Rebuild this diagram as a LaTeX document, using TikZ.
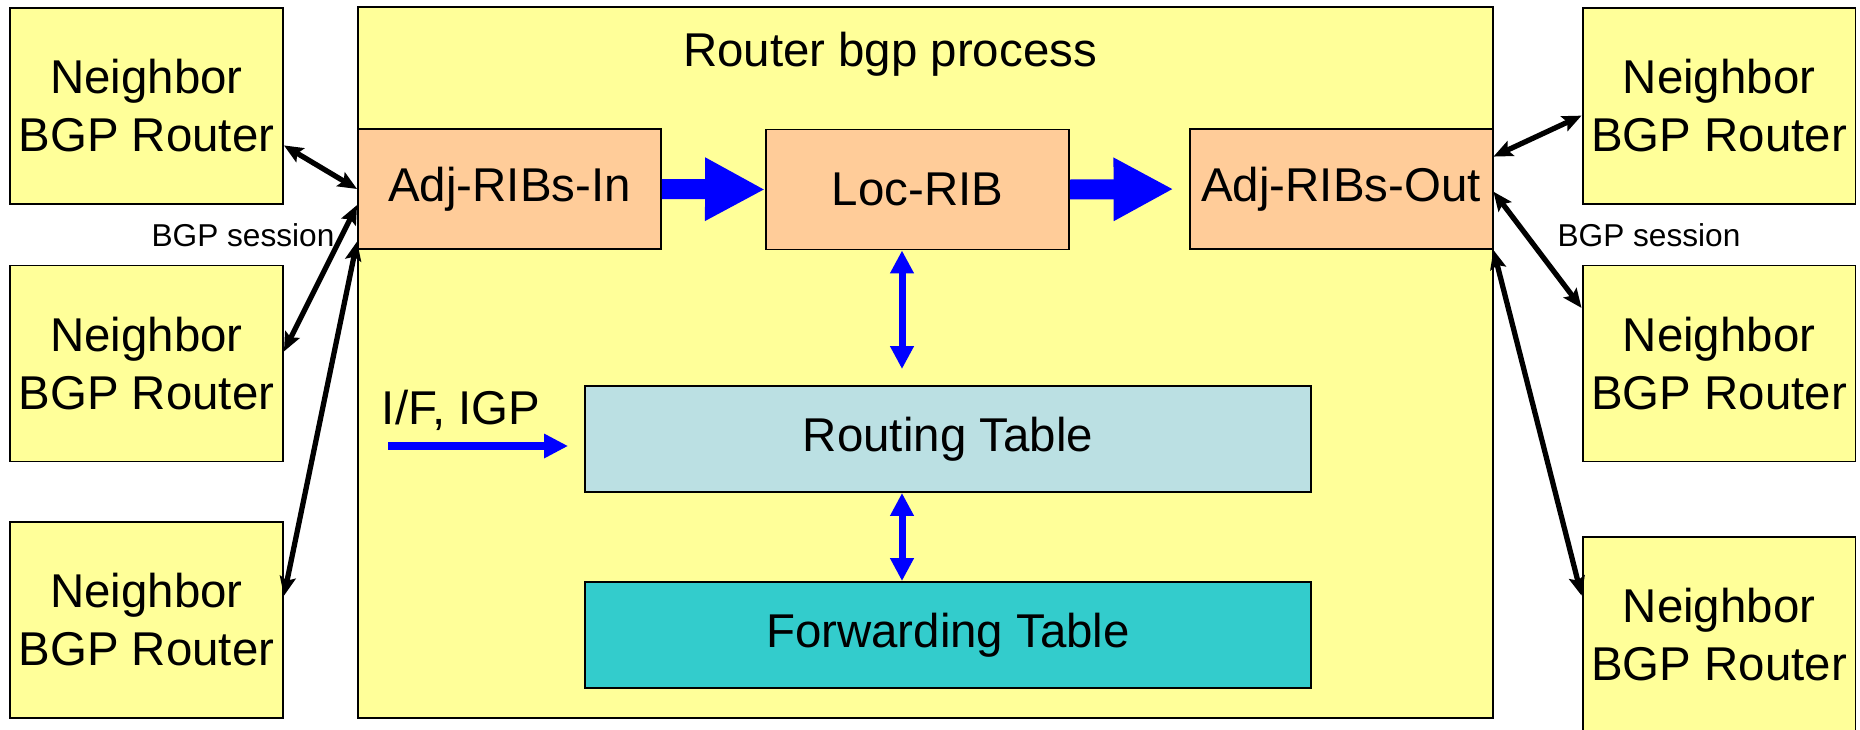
\documentclass[tikz,border=0pt]{standalone}
\usepackage{fontspec}
\setmainfont{Liberation Sans}
\usetikzlibrary{positioning,arrows.meta}
\definecolor{paleyellow}{HTML}{FFFF99}
\definecolor{peach}{HTML}{FFCC99}
\definecolor{paleblue}{HTML}{BBE0E3}
\definecolor{tealfill}{HTML}{33CCCC}

\begin{document}
\begin{tikzpicture}[x=0.02cm,y=-0.02cm,
    box/.style={draw,line width=1.1pt,inner sep=0pt,align=center,font=\fontsize{27}{33}\selectfont},
    nbr/.style={box,fill=paleyellow,minimum width=5.46cm,minimum height=3.92cm},
    rib/.style={box,fill=peach,minimum width=6.06cm,minimum height=2.4cm},
    tbl/.style={box,minimum width=14.52cm,minimum height=2.12cm},
    session/.style={<->,>={Stealth[length=3.8mm,width=3.2mm,inset=0.7mm]},line width=3pt},
    flow/.style={-{Triangle[length=12mm,width=11.8mm]},line width=4mm,blue},
    link/.style={<->,>={Triangle[length=4.6mm,width=4.5mm]},line width=1.4mm,blue},
    feed/.style={-{Triangle[length=4.8mm,width=4.6mm]},line width=1.6mm,blue},
    small/.style={font=\fontsize{18}{21.6}\selectfont},
]
\useasboundingbox (0,0) rectangle (1860,730);
\node[box,fill=paleyellow,minimum width=22.7cm,minimum height=14.22cm] (router) at (925.5,362.5) {};
\node[font=\fontsize{27}{33}\selectfont] (title) at (890,54) {Router bgp process};

\node[nbr] (n1)  at (146.5,106)   {Neighbor\\BGP Router};
\node[nbr] (n2)  at (146.5,363.5) {Neighbor\\BGP Router};
\node[nbr] (n3)  at (146.5,620)   {Neighbor\\BGP Router};
\node[nbr] (rn1) at (1719,106)    {Neighbor\\BGP Router};
\node[nbr] (rn2) at (1719,363.5)  {Neighbor\\BGP Router};
\node[nbr] (rn3) at (1719,635)    {Neighbor\\BGP Router};

\node[rib] (adjin)  at (509.5,189)  {Adj-RIBs-In};
\node[rib] (locrib) at (917.5,189.5) {Loc-RIB};
\node[rib] (adjout) at (1341,189)   {Adj-RIBs-Out};

\node[tbl,fill=paleblue] (rtable) at (948,439) {Routing Table};
\node[tbl,fill=tealfill] (ftable) at (948,635) {Forwarding Table};

\draw[flow] (adjin.east) -- (locrib.west);
\draw[flow,shorten >=3mm] (locrib.east) -- (adjout.west);

\coordinate (tap) at (902,0);
\draw[link,shorten >=3.2mm] (locrib.south -| tap) -- (rtable.north -| tap);
\draw[link] (rtable.south -| tap) -- (ftable.north -| tap);

\node[font=\fontsize{27}{33}\selectfont] (igplbl) at (461,410) {I/F, IGP};
\coordinate (igp) at (388,446);
\draw[feed,shorten >=3.2mm] (igp) -- (igp -| rtable.west);

% BGP sessions
\draw[session] (n1.-16) -- (adjin.west);
\draw[session] (adjin.186) -- (n2.5);
\draw[session] (adjin.199) -- (n3.10);
\draw[session] (adjout.12) -- (rn1.184);
\draw[session] (adjout.-1) -- (rn2.158);
\draw[session] (adjout.south east) -- (rn3.164);
\node[small] (lsess) at (243,235) {BGP session};
\node[small] (rsess) at (1649,235) {BGP session};
\end{tikzpicture}
\end{document}
